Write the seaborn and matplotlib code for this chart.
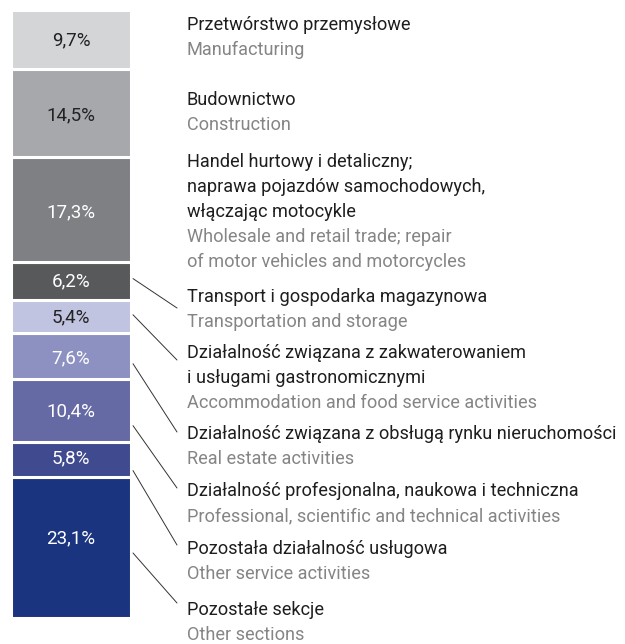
import matplotlib
matplotlib.use("Agg")
import matplotlib.pyplot as plt
import seaborn as sns
import pandas as pd
import numpy as np

# ---- data ----
sectors_pl = [
    "Przetwórstwo przemysłowe",
    "Budownictwo",
    "Handel hurtowy i detaliczny;\nnaprawa pojazdów samochodowych,\nwłączając motocykle",
    "Transport i gospodarka magazynowa",
    "Działalność związana z zakwaterowaniem\ni usługami gastronomicznymi",
    "Działalność związana z obsługą rynku nieruchomości",
    "Działalność profesjonalna, naukowa i techniczna",
    "Pozostała działalność usługowa",
    "Pozostałe sekcje",
]
sectors_en = [
    "Manufacturing",
    "Construction",
    "Wholesale and retail trade; repair\nof motor vehicles and motorcycles",
    "Transportation and storage",
    "Accommodation and food service activities",
    "Real estate activities",
    "Professional, scientific and technical activities",
    "Other service activities",
    "Other sections",
]
shares = [9.7, 14.5, 17.3, 6.2, 5.4, 7.6, 10.4, 5.8, 23.1]
share_labels = ["9,7%", "14,5%", "17,3%", "6,2%", "5,4%", "7,6%", "10,4%", "5,8%", "23,1%"]

# ---- styles ----
colors = ["#d4d5d7", "#a7a8ac", "#7f8084", "#58595b", "#c1c4e1",
          "#8d91c1", "#6569a4", "#3f4b8e", "#1a347f"]
text_colors = ["#222222", "#222222", "#ffffff", "#ffffff", "#222222",
               "#ffffff", "#ffffff", "#ffffff", "#ffffff"]
pct_offset_px = [0, 2, 2, 0, 1, 2, 1, -1, -9]
label_top_px = [25, 100, 162, 297, 353, 434, 491, 549, 610]
line_step_px = 25
# connector: (fraction down the segment where line starts, end y px)
connectors = {3: (0.43, 308), 4: (0.45, 360), 5: (0.67, 432),
              6: (0.74, 488), 7: (0.81, 545), 8: (0.54, 603)}

W, H = 625, 644
sns.set_theme(style="white")
plt.rcParams["font.family"] = ["Roboto", "DejaVu Sans"]

fig = plt.figure(figsize=(W / 100, H / 100), dpi=100)
ax = fig.add_axes([0, 0, 1, 1])

df = pd.DataFrame({"grp": ["all"] * len(shares), "sector": sectors_en, "share": shares})
sns.histplot(data=df, x="grp", weights="share", hue="sector", hue_order=sectors_en,
             multiple="stack", discrete=True, shrink=1,
             palette=dict(zip(sectors_en, colors)), alpha=1,
             edgecolor="white", linewidth=2.2, legend=False, ax=ax)

# map data to pixels: bar visible 13..129 px, top 12px, bottom 616px
px_per_x = 119.0
x_left = -0.5 - 11.5 / px_per_x
ax.set_xlim(x_left, x_left + W / px_per_x)
px_per_y = 6.07
ax.set_ylim(-26.5 / px_per_y, 100 + 10.5 / px_per_y)
ax.axis("off")

vals = np.array(shares)
tops = 100 - np.concatenate([[0], np.cumsum(vals)[:-1]])
centers = tops - vals / 2
for c, lab, tc, off in zip(centers, share_labels, text_colors, pct_offset_px):
    ax.text(0, c - off / px_per_y, lab, ha="center", va="center", fontsize=13.5, color=tc)

for i, (pl, en) in enumerate(zip(sectors_pl, sectors_en)):
    lines = [(l, "#1e1e1e") for l in pl.split("\n")] + [(l, "#858585") for l in en.split("\n")]
    for j, (l, col) in enumerate(lines):
        y = H - (label_top_px[i] + j * line_step_px)
        fig.text(187 / W, y / H, l, ha="left", va="center", fontsize=13.1, color=col)

for i, (frac, yend) in connectors.items():
    ystart = tops[i] - frac * vals[i]
    ax.annotate("", xy=(133, ystart), xycoords=("figure pixels", "data"),
                xytext=(177, H - yend), textcoords="figure pixels",
                arrowprops=dict(arrowstyle="-", color="#333333", lw=0.7,
                                shrinkA=0, shrinkB=0))

fig.savefig("out.png", dpi=100, facecolor="white")
